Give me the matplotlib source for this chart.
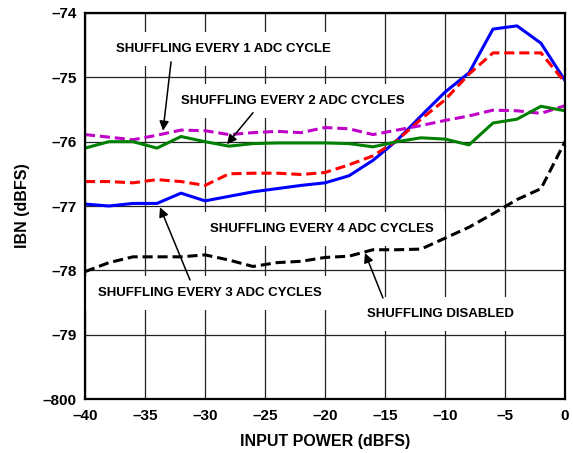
import matplotlib
matplotlib.use("Agg")
import matplotlib.pyplot as plt
import numpy as np

# ---- data ----
input_power = [-40, -38, -36, -34, -32, -30, -28, -26, -24, -22, -20,
               -18, -16, -14, -12, -10, -8, -6, -4, -2, 0]

ibn_every3 = [-76.97, -77.00, -76.96, -76.96, -76.80, -76.92, -76.85, -76.78, -76.73, -76.68, -76.64,
              -76.53, -76.29, -75.98, -75.60, -75.23, -74.93, -74.25, -74.20, -74.47, -75.05]
ibn_every4 = [-76.62, -76.62, -76.64, -76.59, -76.62, -76.68, -76.50, -76.49, -76.49, -76.51, -76.48,
              -76.36, -76.22, -75.98, -75.65, -75.35, -74.95, -74.62, -74.62, -74.62, -75.08]
ibn_every1 = [-75.89, -75.93, -75.97, -75.90, -75.82, -75.83, -75.89, -75.86, -75.84, -75.86, -75.78,
              -75.80, -75.89, -75.82, -75.75, -75.67, -75.60, -75.51, -75.52, -75.56, -75.44]
ibn_every2 = [-76.10, -76.00, -76.00, -76.10, -75.92, -76.00, -76.07, -76.03, -76.02, -76.02, -76.02,
              -76.03, -76.08, -76.00, -75.94, -75.96, -76.05, -75.71, -75.65, -75.45, -75.52]
ibn_disabled = [-78.02, -77.88, -77.79, -77.79, -77.79, -77.76, -77.84, -77.94, -77.88, -77.86, -77.80,
                -77.78, -77.68, -77.68, -77.67, -77.50, -77.33, -77.12, -76.90, -76.73, -76.00]

x_ticks = [-40, -35, -30, -25, -20, -15, -10, -5, 0]
x_tick_labels = ["–40", "–35", "–30", "–25", "–20", "–15", "–10", "–5", "0"]
y_ticks = [-80, -79, -78, -77, -76, -75, -74]
y_tick_labels = ["–800", "–79", "–78", "–77", "–76", "–75", "–74"]

label_every1 = "SHUFFLING EVERY 1 ADC CYCLE"
label_every2 = "SHUFFLING EVERY 2 ADC CYCLES"
label_every3 = "SHUFFLING EVERY 3 ADC CYCLES"
label_every4 = "SHUFFLING EVERY 4 ADC CYCLES"
label_disabled = "SHUFFLING DISABLED"

# ---- figure ----
plt.rcParams['font.family'] = ['Liberation Sans', 'DejaVu Sans']
plt.rcParams['font.weight'] = 'bold'

fig = plt.figure(figsize=(5.73, 4.53), dpi=100)
ax = fig.add_axes([85/573, 1-399/453, (565-85)/573, (399-13)/453])

ax.set_xlim(-40, 0)
ax.set_ylim(-80, -74)
ax.set_xticks(x_ticks)
ax.set_xticklabels(x_tick_labels)
ax.set_yticks(y_ticks)
ax.set_yticklabels(y_tick_labels)
ax.tick_params(length=0, labelsize=11)
ax.tick_params(axis='y', pad=6)
ax.tick_params(axis='x', pad=7)
for lab in ax.get_xticklabels() + ax.get_yticklabels():
    lab.set_fontweight('bold')

ax.grid(True, color='#222222', linewidth=0.9)
ax.set_axisbelow(True)
for s in ax.spines.values():
    s.set_linewidth(1.6)
    s.set_zorder(5)

lw = 2.2
ax.plot(input_power, ibn_every3, color='#0000FF', lw=lw, zorder=3, solid_joinstyle='round')
ax.plot(input_power, ibn_every4, color='#FF0000', lw=lw, dashes=(3.3, 1.6), zorder=3)
ax.plot(input_power, ibn_every1, color='#C000C8', lw=lw, dashes=(3.3, 1.6), zorder=3)
ax.plot(input_power, ibn_every2, color='#008000', lw=lw, zorder=3, solid_joinstyle='round')
ax.plot(input_power, ibn_disabled, color='black', lw=lw, dashes=(3.3, 1.6), zorder=3)

ax.set_xlabel("INPUT POWER (dBFS)", fontsize=11.5, fontweight='bold', labelpad=8)
ax.set_ylabel("IBN (dBFS)", fontsize=11.5, fontweight='bold', labelpad=9)

box = dict(facecolor='white', edgecolor='none', pad=8)
tkw = dict(fontsize=9.5, fontweight='bold', ha='center', va='center', bbox=box, zorder=2)
ax.text(-28.46, -74.56, label_every1, **tkw)
ax.text(-22.67, -75.37, label_every2, **tkw)
ax.text(-20.25, -77.36, label_every4, **tkw)
ax.text(-29.63, -78.35, label_every3, **tkw)
ax.text(-10.37, -78.68, label_disabled, **tkw)

akw = dict(arrowstyle='-|>', color='black', lw=1.1, mutation_scale=14, shrinkA=0, shrinkB=0)
ax.annotate('', xy=(-33.5, -75.83), xytext=(-32.83, -74.76), arrowprops=akw, zorder=4)
ax.annotate('', xy=(-28.17, -76.04), xytext=(-26.0, -75.55), arrowprops=akw, zorder=4)
ax.annotate('', xy=(-33.75, -77.02), xytext=(-31.25, -78.15), arrowprops=akw, zorder=4)
ax.annotate('', xy=(-16.67, -77.73), xytext=(-15.17, -78.43), arrowprops=akw, zorder=4)

fig.savefig("out.png", dpi=100)
